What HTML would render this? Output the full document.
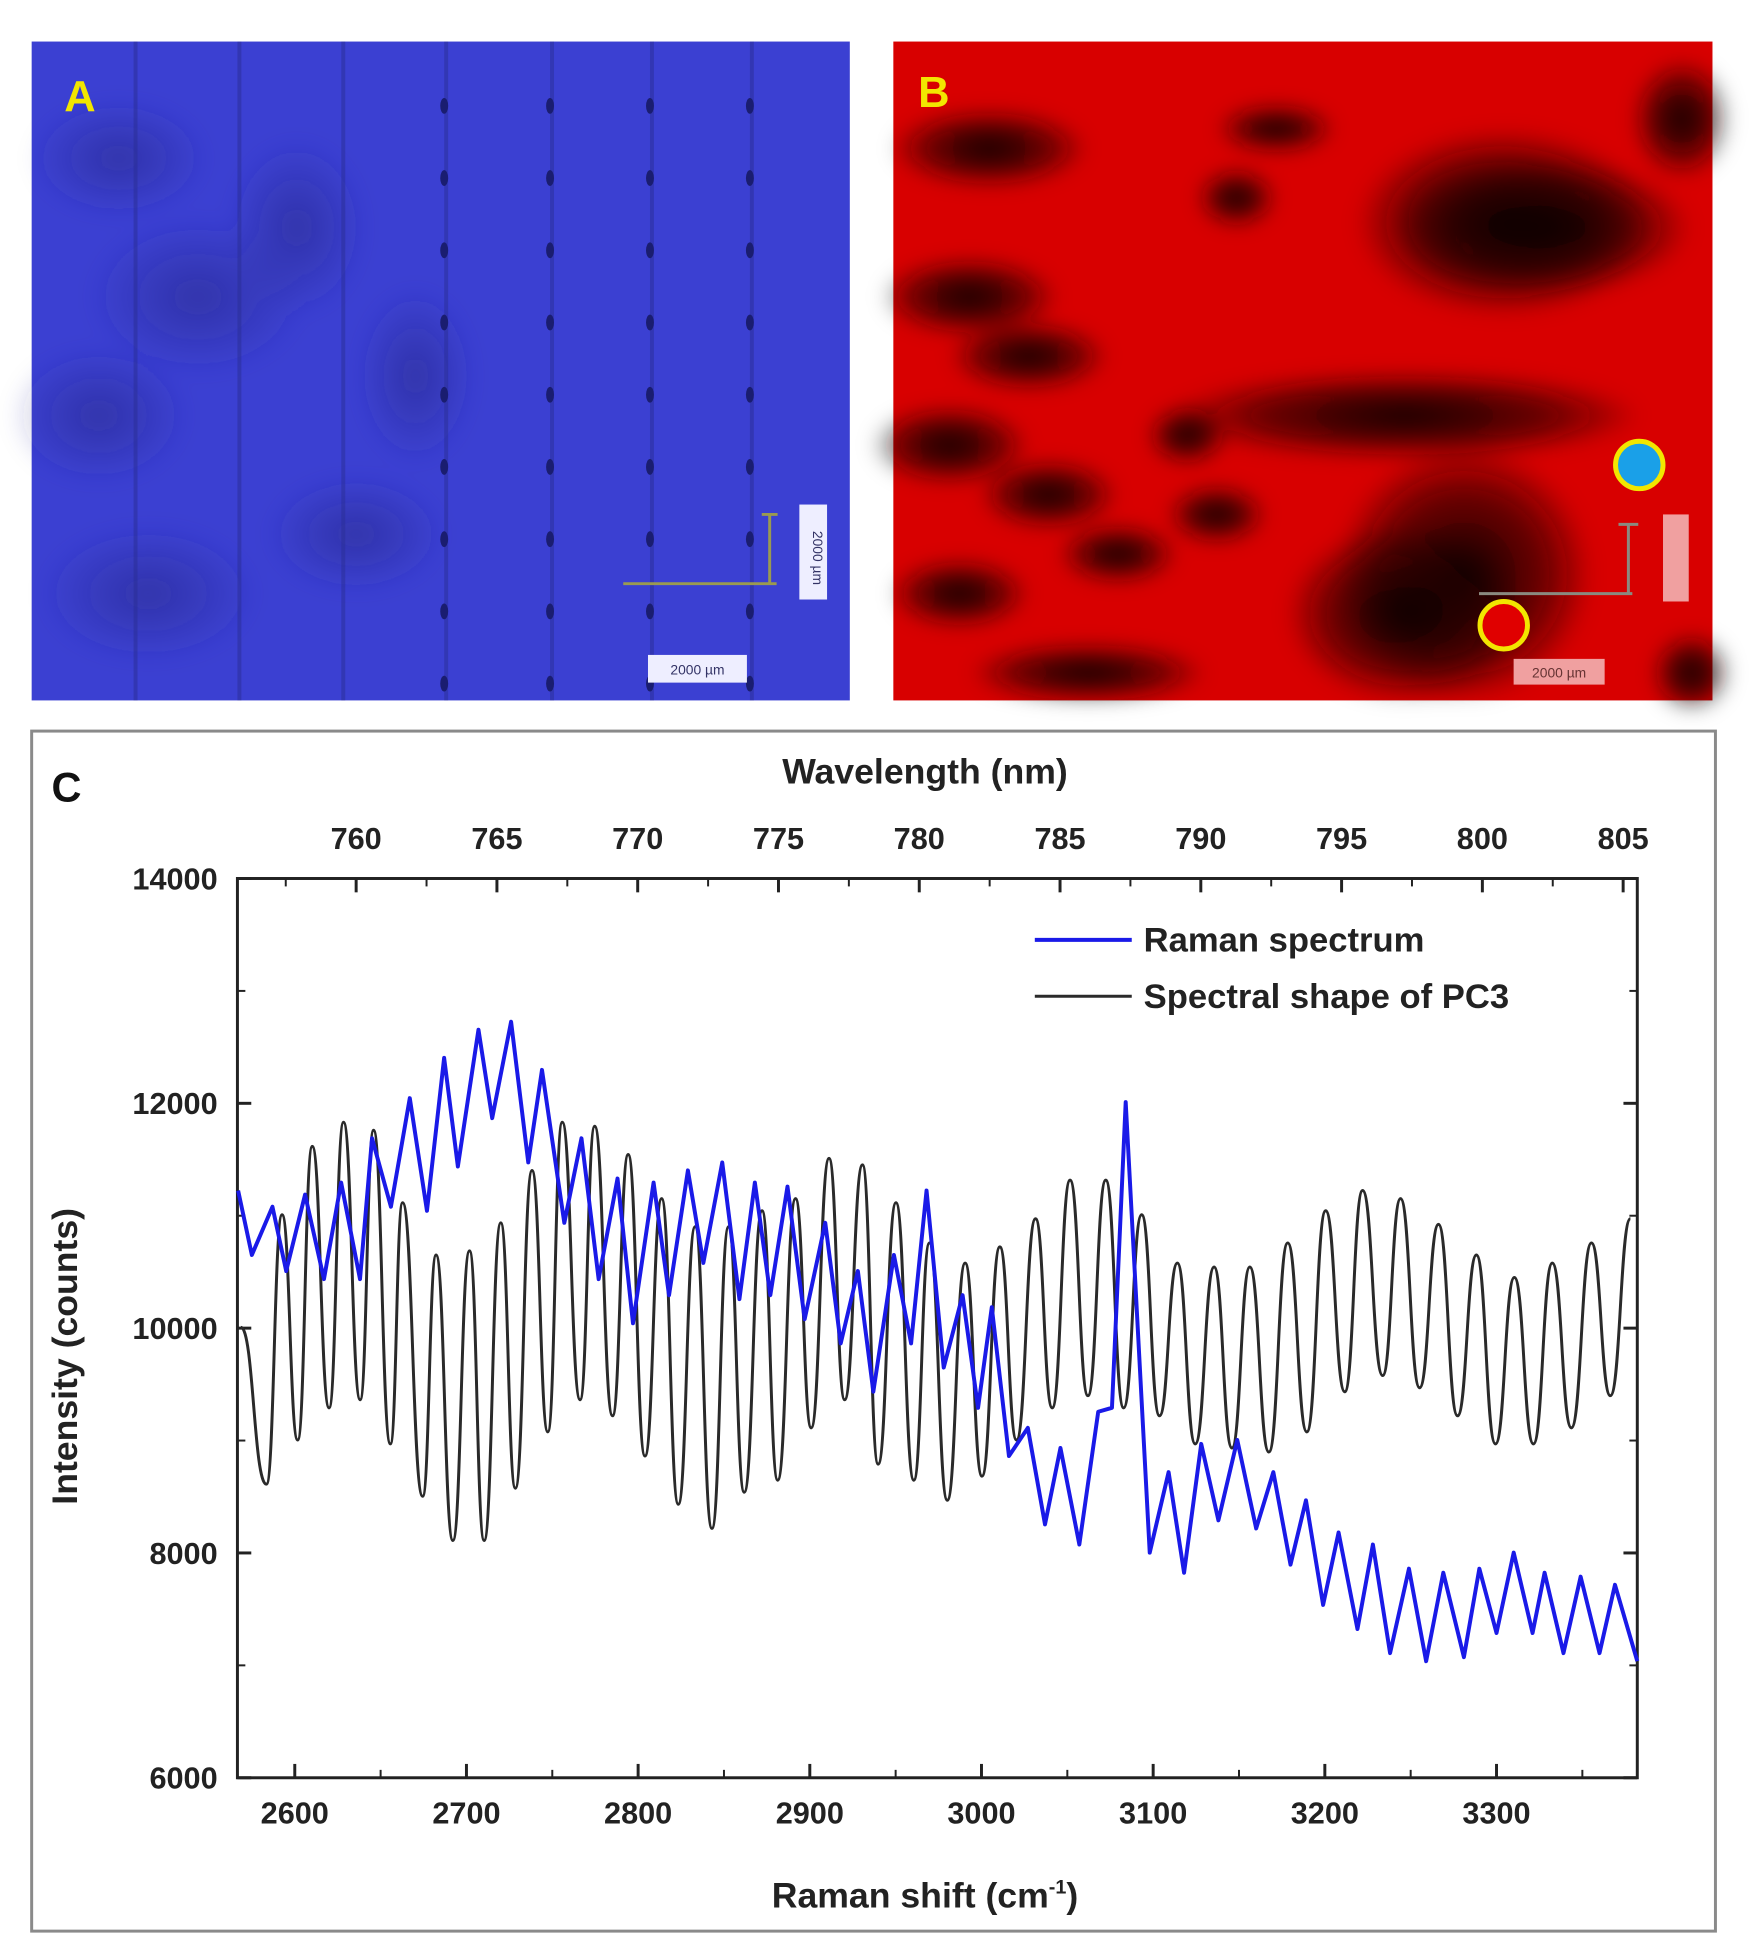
<!DOCTYPE html>
<html><head><meta charset="utf-8">
<style>
html,body{margin:0;padding:0;background:#fff;}
body{width:1750px;height:1960px;position:relative;overflow:hidden;font-family:"Liberation Sans",sans-serif;}
</style></head>
<body>
<svg width="1750" height="1960" viewBox="0 0 1750 1960" xmlns="http://www.w3.org/2000/svg" style="position:absolute;left:0;top:0">
<defs>
<radialGradient id="dk" cx="50%" cy="50%" r="50%"><stop offset="0" stop-color="#000" stop-opacity="0.95"/><stop offset="0.6" stop-color="#200" stop-opacity="0.6"/><stop offset="1" stop-color="#000" stop-opacity="0"/></radialGradient>
<radialGradient id="dkA" cx="50%" cy="50%" r="50%"><stop offset="0" stop-color="#2a2a8a" stop-opacity="0.55"/><stop offset="1" stop-color="#2a2a8a" stop-opacity="0"/></radialGradient>
<filter id="blur"><feGaussianBlur stdDeviation="10"/></filter>
</defs>
<g transform="scale(0.9893)">
<!-- Panel A -->
<g>
<rect x="32" y="42" width="827" height="666" fill="#3b40d2"/>
<g filter="url(#blur)">
<ellipse cx="120" cy="160" rx="90" ry="60" fill="url(#dkA)"/>
<ellipse cx="200" cy="300" rx="110" ry="80" fill="url(#dkA)"/>
<ellipse cx="100" cy="420" rx="90" ry="70" fill="url(#dkA)"/>
<ellipse cx="300" cy="230" rx="70" ry="90" fill="url(#dkA)"/>
<ellipse cx="360" cy="540" rx="90" ry="60" fill="url(#dkA)"/>
<ellipse cx="150" cy="600" rx="110" ry="70" fill="url(#dkA)"/>
<ellipse cx="420" cy="380" rx="60" ry="90" fill="url(#dkA)"/>
</g>
<g fill="#2a2e95" opacity="0.5">
<rect x="135" y="42" width="4" height="666"/><rect x="240" y="42" width="4" height="666"/><rect x="345" y="42" width="4" height="666"/><rect x="449" y="42" width="4" height="666"/><rect x="556" y="42" width="4" height="666"/><rect x="657" y="42" width="4" height="666"/><rect x="758" y="42" width="4" height="666"/>
</g>
<g id="dots" fill="#1a1d70"></g>
<text x="65" y="112" font-size="44" font-weight="bold" fill="#f2e600">A</text>
<g stroke="#9a9a50" stroke-width="3" fill="none">
<line x1="630" y1="590" x2="785" y2="590"/><line x1="778" y1="520" x2="778" y2="590"/><line x1="770" y1="520" x2="786" y2="520"/>
</g>
<rect x="808" y="510" width="28" height="96" fill="#eef"/>
<rect x="655" y="662" width="100" height="28" fill="#eef"/>
<text x="705" y="682" font-size="14" text-anchor="middle" fill="#336">2000 µm</text>
<text x="828" y="558" font-size="14" text-anchor="middle" fill="#336" transform="rotate(90 822 558)">2000 µm</text>
</g>
<!-- Panel B -->
<g>
<rect x="903" y="42" width="828" height="666" fill="#d80000"/>
<g filter="url(#blur)">
<ellipse cx="1520" cy="225" rx="150" ry="95" fill="url(#dk)"/>
<ellipse cx="1560" cy="230" rx="150" ry="70" fill="url(#dk)"/>
<ellipse cx="1420" cy="420" rx="240" ry="45" fill="url(#dk)"/>
<ellipse cx="1480" cy="580" rx="130" ry="130" fill="url(#dk)"/>
<ellipse cx="1420" cy="620" rx="120" ry="90" fill="url(#dk)"/>
<ellipse cx="1000" cy="150" rx="100" ry="40" fill="url(#dk)"/>
<ellipse cx="980" cy="300" rx="90" ry="40" fill="url(#dk)"/>
<ellipse cx="1040" cy="360" rx="80" ry="35" fill="url(#dk)"/>
<ellipse cx="960" cy="450" rx="80" ry="40" fill="url(#dk)"/>
<ellipse cx="1060" cy="500" rx="70" ry="35" fill="url(#dk)"/>
<ellipse cx="970" cy="600" rx="70" ry="35" fill="url(#dk)"/>
<ellipse cx="1130" cy="560" rx="60" ry="30" fill="url(#dk)"/>
<ellipse cx="1200" cy="440" rx="40" ry="30" fill="url(#dk)"/>
<ellipse cx="1230" cy="520" rx="50" ry="30" fill="url(#dk)"/>
<ellipse cx="1250" cy="200" rx="40" ry="30" fill="url(#dk)"/>
<ellipse cx="1290" cy="130" rx="60" ry="25" fill="url(#dk)"/>
<ellipse cx="1100" cy="680" rx="120" ry="30" fill="url(#dk)"/>
<ellipse cx="1700" cy="120" rx="50" ry="60" fill="url(#dk)"/>
<ellipse cx="1710" cy="680" rx="40" ry="40" fill="url(#dk)"/>
</g>
<text x="928" y="108" font-size="44" font-weight="bold" fill="#f2e600">B</text>
<circle cx="1657" cy="470" r="24" fill="#1aa0e8" stroke="#f2e600" stroke-width="5"/>
<circle cx="1520" cy="632" r="24" fill="#e00000" stroke="#f2e600" stroke-width="5"/>
<g stroke="#8a8a80" stroke-width="3" fill="none">
<line x1="1495" y1="600" x2="1650" y2="600"/><line x1="1646" y1="530" x2="1646" y2="600"/><line x1="1636" y1="530" x2="1656" y2="530"/>
</g>
<rect x="1681" y="520" width="26" height="88" fill="#f0a0a0"/>
<rect x="1530" y="666" width="92" height="26" fill="#f0a0a0"/>
<text x="1576" y="685" font-size="14" text-anchor="middle" fill="#633">2000 µm</text>
</g>
<!-- Panel C -->
<rect x="32" y="739" width="1702" height="1213" fill="#fff" stroke="#8a8a8a" stroke-width="3"/>
<text x="52" y="810" font-size="42" font-weight="bold" fill="#111">C</text>
<g id="chart"></g>
</g>
</svg>
<script>
// ---- Chart data ----
const xTicks = [2600,2700,2800,2900,3000,3100,3200,3300];
const yTicks = [6000,8000,10000,12000,14000];
const topTicks = [760,765,770,775,780,785,790,795,800,805];
const ramanX = [2567,2575,2587,2595,2606,2617,2627,2638,2645,2656,2667,2677,2687,2695,2707,2715,2726,2736,2744,2757,2767,2777,2788,2797,2809,2818,2829,2838,2849,2859,2868,2877,2887,2897,2909,2918,2928,2937,2949,2959,2968,2978,2989,2998,3006,3016,3027,3037,3046,3057,3068,3076,3084,3098,3109,3118,3128,3138,3149,3160,3170,3180,3189,3199,3208,3219,3228,3238,3249,3259,3269,3281,3290,3300,3310,3321,3328,3339,3349,3360,3369,3382];
const ramanY = [11224,10651,11080,10508,11188,10436,11295,10436,11689,11080,12046,11044,12404,11438,12655,11868,12726,11474,12297,10937,11689,10436,11331,10043,11295,10293,11403,10580,11474,10258,11295,10293,11259,10079,10937,9864,10508,9435,10651,9864,11224,9649,10293,9291,10186,8862,9113,8254,8934,8075,9256,9291,12011,8003,8719,7824,8970,8290,9005,8218,8719,7896,8468,7538,8182,7323,8075,7109,7860,7037,7824,7073,7860,7288,8003,7288,7824,7109,7789,7109,7717,7037];
const pcX = [2568.6,2583.5,2592.6,2601.7,2610.2,2620.0,2628.4,2638.1,2645.9,2655.7,2662.8,2674.5,2682.3,2692.1,2701.8,2710.3,2720.0,2728.5,2738.2,2747.4,2755.8,2766.2,2774.7,2785.1,2794.2,2804.0,2813.7,2823.4,2833.2,2843.0,2852.7,2861.8,2872.2,2881.3,2891.7,2900.8,2911.2,2920.3,2930.7,2939.8,2950.2,2960.6,2969.7,2980.1,2990.5,3000.3,3010.7,3020.4,3031.5,3041.2,3051.6,3062.0,3072.4,3082.8,3093.3,3103.7,3114.1,3124.5,3135.5,3145.9,3156.3,3167.4,3178.4,3189.5,3200.5,3211.6,3222.0,3233.7,3244.1,3255.2,3266.2,3277.3,3288.3,3299.4,3310.4,3321.5,3332.5,3343.6,3355.3,3366.3,3378.0];
const pcY = [10007,8612,11009,9005,11617,9291,11832,9363,11760,8970,11116,8504,10651,8111,10687,8111,10937,8576,11402,9077,11832,9363,11796,9220,11545,8862,11152,8433,10902,8218,10902,8540,11044,8647,11152,9113,11510,9363,11452,8790,11116,8647,10758,8469,10579,8683,10723,9005,10973,9291,11317,9399,11317,9291,11009,9220,10579,8970,10544,8934,10544,8898,10758,9077,11044,9434,11224,9578,11152,9470,10923,9220,10651,8970,10451,8970,10579,9113,10758,9399,10973];
const legendLabels = ["Raman spectrum","Spectral shape of PC3"];

// ---- axes ----
const L=240,R=1655,T=888,B=1797;
const xMin=2566.6,xMax=3382,yMin=6000,yMax=14000;
const nm0=760,nmX0=360,nmPx=142.3/5;
function sx(v){return L+(v-xMin)/(xMax-xMin)*(R-L);}
function sy(v){return B-(v-yMin)/(yMax-yMin)*(B-T);}
function snm(v){return nmX0+(v-nm0)*nmPx;}
const NS="http://www.w3.org/2000/svg";
const chart=document.getElementById('chart');
function mk(tag,attrs,parent){const e=document.createElementNS(NS,tag);for(const k in attrs)e.setAttribute(k,attrs[k]);(parent||chart).appendChild(e);return e;}

// dots in panel A
const dots=document.getElementById('dots');
[449,556,657,758].forEach(cx=>{for(let cy=107;cy<700;cy+=73){const d=mk('ellipse',{cx:cx,cy:cy,rx:4,ry:8},dots);

}});

// frame
const frame=mk('rect',{x:L,y:T,width:R-L,height:B-T,fill:'none',stroke:'#222','stroke-width':3});



const tf='font-family:"Liberation Sans",sans-serif;font-weight:bold;fill:#222';
// bottom ticks
xTicks.forEach(v=>{
  mk('line',{x1:sx(v),y1:B,x2:sx(v),y2:B-14,stroke:'#222','stroke-width':3});
  mk('line',{x1:sx(v+50),y1:B,x2:sx(v+50),y2:B-8,stroke:'#222','stroke-width':2});
  const t=mk('text',{x:sx(v),y:1843,'text-anchor':'middle','font-size':31,style:tf});
  t.textContent=v;
  
  
});
// left/right ticks
yTicks.forEach(v=>{
  mk('line',{x1:L,y1:sy(v),x2:L+14,y2:sy(v),stroke:'#222','stroke-width':3});
  mk('line',{x1:R,y1:sy(v),x2:R-14,y2:sy(v),stroke:'#222','stroke-width':3});
  if(v<14000){mk('line',{x1:L,y1:sy(v+1000),x2:L+8,y2:sy(v+1000),stroke:'#222','stroke-width':2});
  mk('line',{x1:R,y1:sy(v+1000),x2:R-8,y2:sy(v+1000),stroke:'#222','stroke-width':2});}
  const t=mk('text',{x:220,y:sy(v)+11,'text-anchor':'end','font-size':31,style:tf});
  t.textContent=v;
  
  
});
// top ticks
topTicks.forEach(v=>{
  mk('line',{x1:snm(v),y1:T,x2:snm(v),y2:T+14,stroke:'#222','stroke-width':3});
  mk('line',{x1:snm(v-2.5),y1:T,x2:snm(v-2.5),y2:T+8,stroke:'#222','stroke-width':2});
  const t=mk('text',{x:snm(v),y:858,'text-anchor':'middle','font-size':31,style:tf});
  t.textContent=v;
  
  
});
// titles
let t=mk('text',{x:935,y:792,'text-anchor':'middle','font-size':36,style:tf});t.textContent='Wavelength (nm)';


t=mk('text',{x:935,y:1928,'text-anchor':'middle','font-size':36,style:tf});
t.innerHTML='Raman shift (cm<tspan dy="-14" font-size="20">-1</tspan><tspan dy="14">)</tspan>';


t=mk('text',{x:0,y:0,'text-anchor':'middle','font-size':36,style:tf,transform:'translate(78,1371) rotate(-90)'});t.textContent='Intensity (counts)';



// PC3 smooth curve (horizontal tangents at extrema)
let d='M'+sx(pcX[0])+','+sy(pcY[0]);
for(let i=1;i<pcX.length;i++){const x0=sx(pcX[i-1]),y0=sy(pcY[i-1]),x1=sx(pcX[i]),y1=sy(pcY[i]);const h=(x1-x0)/2;
d+=' C'+(x0+h)+','+y0+' '+(x1-h)+','+y1+' '+x1+','+y1;}
const pc=mk('path',{d:d,fill:'none',stroke:'#2a2a2a','stroke-width':3});



// Raman line
const rp=ramanX.map((x,i)=>sx(x)+','+sy(ramanY[i])).join(' ');
const rl=mk('polyline',{points:rp,fill:'none',stroke:'#1a1ae8','stroke-width':4,'stroke-linejoin':'round'});



// legend
const lc=['#1a1ae8','#2a2a2a'];
legendLabels.forEach((s,i)=>{
  const y=950+i*57;
  const ln=mk('line',{x1:1046,y1:y,x2:1144,y2:y,stroke:lc[i],'stroke-width':i?3:4});
  
  
  const tx=mk('text',{x:1156,y:y+12,'font-size':35,style:tf});tx.textContent=s;
  
  
});
</script>
</body></html>
